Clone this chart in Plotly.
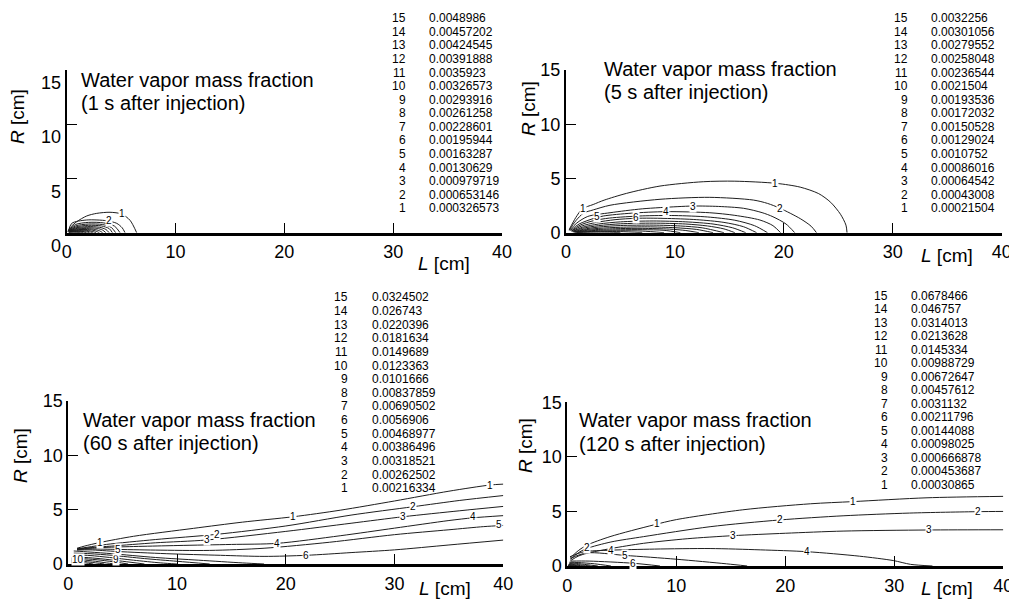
import plotly.graph_objects as go

# page is 1017x599; the browser places the figure 8px from the top-left corner
PAGE_W, PAGE_H = 1017, 599
BODY_MARGIN = 8
W, H = PAGE_W - BODY_MARGIN, PAGE_H - BODY_MARGIN

# ---------------- data ----------------
X_TICKS = [0, 10, 20, 30, 40]
Y_TICKS = [0, 5, 10, 15]
TITLE_LINE1 = "Water vapor mass fraction"
TIMES = ["(1 s after injection)", "(5 s after injection)",
         "(60 s after injection)", "(120 s after injection)"]
LEVEL_IDS = list(range(1, 16))

# contour level values, level 1 .. 15
P1_LEVELS = [0.000326573, 0.000653146, 0.000979719, 0.00130629, 0.00163287,
             0.00195944, 0.00228601, 0.00261258, 0.00293916, 0.00326573,
             0.0035923, 0.00391888, 0.00424545, 0.00457202, 0.0048986]
P2_LEVELS = [0.00021504, 0.00043008, 0.00064542, 0.00086016, 0.0010752,
             0.00129024, 0.00150528, 0.00172032, 0.00193536, 0.0021504,
             0.00236544, 0.00258048, 0.00279552, 0.00301056, 0.0032256]
P3_LEVELS = [0.00216334, 0.00262502, 0.00318521, 0.00386496, 0.00468977,
             0.0056906, 0.00690502, 0.00837859, 0.0101666, 0.0123363,
             0.0149689, 0.0181634, 0.0220396, 0.026743, 0.0324502]
P4_LEVELS = [0.00030865, 0.000453687, 0.000666878, 0.00098025, 0.00144088,
             0.00211796, 0.0031132, 0.00457612, 0.00672647, 0.00988729,
             0.0145334, 0.0213628, 0.0314013, 0.046757, 0.0678466]

# contour lines (L [cm], R [cm]), level 1 .. 15
P1_LINES_X = [
    [0.1, 0.3, 0.92, 1.84, 2.76, 3.98, 5.05, 5.82, 6.43],
    [0.15, 0.46, 1.84, 3.68, 4.6, 5.1, 5.36],
    [0.2, 0.8, 2.0, 3.4, 4.4, 4.9],
    [0.2, 0.8, 2.0, 3.3, 4.1, 4.5],
    [0.2, 0.8, 2.0, 3.2, 3.9, 4.2],
    [0.2, 0.8, 1.9, 3.0, 3.6, 3.9],
    [0.2, 0.8, 1.8, 2.8, 3.3, 3.6],
    [0.2, 0.7, 1.6, 2.5, 3.0, 3.3],
    [0.2, 0.7, 1.5, 2.3, 2.7, 3.0],
    [0.2, 0.6, 1.3, 2.0, 2.4, 2.7],
    [0.2, 0.6, 1.2, 1.8, 2.1, 2.4],
    [0.2, 0.5, 1.0, 1.5, 1.8, 2.1],
    [0.2, 0.5, 0.9, 1.3, 1.6, 1.8],
    [0.2, 0.4, 0.8, 1.1, 1.3, 1.5],
    [0.2, 0.4, 0.6, 0.9, 1.1, 1.2],
]
P1_LINES_Y = [
    [0.1, 0.45, 1.01, 1.54, 1.78, 1.88, 1.72, 1.14, 0.0],
    [0.1, 0.86, 1.17, 1.1, 0.86, 0.45, 0.0],
    [0.25, 0.75, 0.95, 0.9, 0.6, 0.0],
    [0.22, 0.62, 0.8, 0.75, 0.48, 0.0],
    [0.2, 0.52, 0.68, 0.62, 0.38, 0.0],
    [0.18, 0.44, 0.56, 0.5, 0.3, 0.0],
    [0.16, 0.37, 0.46, 0.4, 0.24, 0.0],
    [0.14, 0.3, 0.38, 0.32, 0.18, 0.0],
    [0.12, 0.25, 0.3, 0.25, 0.14, 0.0],
    [0.1, 0.2, 0.24, 0.2, 0.1, 0.0],
    [0.09, 0.16, 0.19, 0.15, 0.08, 0.0],
    [0.07, 0.12, 0.14, 0.11, 0.06, 0.0],
    [0.05, 0.09, 0.1, 0.08, 0.04, 0.0],
    [0.04, 0.06, 0.07, 0.05, 0.03, 0.0],
    [0.02, 0.035, 0.04, 0.03, 0.015, 0.0],
]
P1_LABEL_TEXT = ["1", "2"]
P1_LABEL_X = [5.05, 3.9]
P1_LABEL_Y = [1.74, 1.08]

P2_LINES_X = [
    [0.3, 0.9, 1.5, 2.5, 3.5, 5.57, 8.63, 12.6, 15.5, 19.3, 21.5, 23.2, 24.3, 25.2, 25.7, 25.8],
    [0.3, 0.9, 1.6, 2.5, 4.04, 8.63, 13.2, 17.2, 18.5, 19.65, 21.5, 22.5, 23.0],
    [0.3, 1.0, 2.0, 4.04, 7.0, 10.2, 11.7, 14.0, 16.3, 18.0, 19.0, 20.2, 21.0],
    [0.4, 1.2, 2.5, 3.43, 6.0, 9.18, 13.2, 15.5, 17.8, 19.0, 19.7],
    [0.5, 1.3, 2.5, 4.0, 7.0, 10.0, 13.0, 15.5, 17.3, 18.5],
    [0.5, 1.4, 2.8, 4.5, 6.49, 9.0, 12.0, 14.5, 16.3, 17.5],
    [0.6, 1.5, 3.0, 5.0, 8.0, 11.0, 13.5, 15.3, 16.5],
    [0.6, 1.5, 3.0, 5.0, 8.0, 11.0, 13.0, 14.5, 15.5],
    [0.7, 1.6, 3.0, 5.0, 8.0, 10.5, 12.5, 14.5],
    [0.7, 1.6, 3.0, 5.0, 7.5, 10.0, 12.0, 13.5],
    [0.8, 1.7, 3.0, 5.0, 7.0, 9.5, 11.0, 12.2],
    [0.8, 1.8, 3.0, 5.0, 7.0, 9.0, 10.5],
    [0.9, 2.0, 3.5, 5.0, 7.0, 9.0],
    [1.0, 2.0, 3.5, 5.0, 7.0],
    [1.0, 2.0, 3.0, 4.0, 5.0],
]
P2_LINES_Y = [
    [0.3, 1.4, 2.2, 2.6, 3.0, 3.63, 4.3, 4.7, 4.75, 4.55, 4.2, 3.6, 2.8, 1.7, 0.7, 0.0],
    [0.25, 1.1, 1.8, 2.1, 2.53, 3.08, 3.26, 3.01, 2.7, 2.25, 1.3, 0.6, 0.0],
    [0.2, 0.9, 1.5, 1.84, 2.2, 2.4, 2.46, 2.42, 2.25, 1.85, 1.47, 0.8, 0.0],
    [0.2, 0.8, 1.3, 1.54, 1.8, 1.94, 1.84, 1.6, 1.17, 0.65, 0.0],
    [0.18, 0.7, 1.1, 1.35, 1.55, 1.58, 1.45, 1.15, 0.65, 0.0],
    [0.15, 0.6, 0.95, 1.2, 1.33, 1.32, 1.2, 0.95, 0.55, 0.0],
    [0.13, 0.5, 0.8, 1.0, 1.08, 1.0, 0.8, 0.45, 0.0],
    [0.1, 0.4, 0.65, 0.82, 0.88, 0.8, 0.62, 0.35, 0.0],
    [0.08, 0.32, 0.52, 0.66, 0.7, 0.62, 0.45, 0.0],
    [0.06, 0.25, 0.4, 0.5, 0.54, 0.46, 0.3, 0.0],
    [0.05, 0.2, 0.3, 0.38, 0.4, 0.33, 0.2, 0.0],
    [0.04, 0.15, 0.22, 0.27, 0.28, 0.22, 0.0],
    [0.03, 0.1, 0.16, 0.18, 0.15, 0.0],
    [0.02, 0.07, 0.1, 0.1, 0.0],
    [0.01, 0.04, 0.05, 0.04, 0.0],
]
P2_LABEL_TEXT = ["1", "2", "3", "4", "6", "1", "5"]
P2_LABEL_X = [19.2, 19.65, 11.7, 9.18, 6.43, 1.6, 2.8]
P2_LABEL_Y = [4.5, 2.25, 2.46, 1.94, 1.36, 2.25, 1.47]

P3_LINES_X = [
    [0.8, 1.5, 2.92, 6.0, 11.5, 16.0, 20.7, 25.0, 30.0, 35.0, 38.8, 40.0],
    [0.8, 1.8, 3.5, 8.0, 13.65, 20.0, 26.0, 31.7, 36.0, 40.0],
    [0.8, 2.0, 4.0, 8.0, 12.73, 20.0, 26.0, 30.8, 36.0, 40.0],
    [0.8, 2.0, 4.0, 10.0, 15.0, 19.2, 25.0, 30.0, 35.0, 37.2, 40.0],
    [0.8, 2.0, 4.1, 8.0, 13.0, 18.0, 24.0, 30.0, 35.0, 38.2, 40.0],
    [0.8, 2.0, 4.5, 9.0, 14.0, 18.0, 21.9, 26.0, 30.0, 35.0, 40.0],
    [0.5, 2.0, 4.0, 8.0, 12.0, 16.0, 18.0],
    [0.5, 2.0, 4.0, 7.0, 10.0, 13.0],
    [0.5, 2.0, 3.8, 6.0, 8.5, 10.0],
    [0.3, 1.5, 3.0, 5.0, 7.0],
    [0.3, 1.5, 3.0, 4.5, 5.5],
    [0.3, 1.3, 2.5, 3.5, 4.3],
    [0.3, 1.1, 2.0, 3.3],
    [0.3, 0.9, 1.6, 2.3],
    [0.3, 0.7, 1.2, 1.5],
]
P3_LINES_Y = [
    [1.45, 1.65, 1.98, 2.55, 3.28, 3.85, 4.35, 4.95, 5.8, 6.7, 7.27, 7.35],
    [1.4, 1.55, 1.8, 2.25, 2.73, 3.5, 4.5, 5.27, 5.85, 6.3],
    [1.38, 1.5, 1.65, 1.95, 2.21, 3.0, 3.75, 4.35, 4.9, 5.3],
    [1.35, 1.45, 1.55, 1.7, 1.8, 1.9, 2.6, 3.3, 4.0, 4.25, 4.45],
    [1.32, 1.38, 1.35, 1.28, 1.25, 1.45, 2.0, 2.7, 3.15, 3.44, 3.55],
    [1.28, 1.3, 1.15, 0.95, 0.8, 0.7, 0.8, 1.05, 1.3, 1.75, 2.2],
    [1.2, 1.1, 0.95, 0.6, 0.35, 0.1, 0.0],
    [1.0, 0.95, 0.8, 0.5, 0.25, 0.0],
    [0.85, 0.78, 0.6, 0.35, 0.1, 0.0],
    [0.55, 0.6, 0.48, 0.25, 0.0],
    [0.45, 0.48, 0.35, 0.15, 0.0],
    [0.35, 0.37, 0.25, 0.1, 0.0],
    [0.27, 0.27, 0.17, 0.0],
    [0.18, 0.18, 0.1, 0.0],
    [0.1, 0.1, 0.05, 0.0],
]
P3_LABEL_TEXT = ["1", "1", "1", "2", "2", "3", "3", "4", "4", "5", "6",
                 "10", "9", "5"]
P3_LABEL_X = [38.8, 20.7, 2.9, 13.65, 31.7, 12.73, 30.8, 19.2, 37.2, 39.6, 21.9,
              0.9, 4.4, 4.6]
P3_LABEL_Y = [7.27, 4.35, 1.95, 2.73, 5.27, 2.21, 4.35, 1.9, 4.35, 3.6, 0.78,
              0.45, 0.45, 1.3]

P4_LINES_X = [
    [0.25, 1.0, 1.78, 3.92, 7.9, 10.0, 16.1, 22.3, 26.2, 33.0, 40.0],
    [0.3, 1.0, 1.78, 4.0, 7.0, 13.1, 19.5, 25.3, 31.4, 37.7, 40.0],
    [0.3, 1.0, 1.78, 4.0, 7.0, 11.0, 15.2, 20.0, 25.3, 33.1, 40.0],
    [0.25, 1.5, 3.98, 8.0, 13.1, 17.7, 22.0, 26.8, 29.9, 31.5, 33.5],
    [0.3, 1.78, 5.3, 10.0, 14.6, 16.5],
    [0.3, 2.0, 6.06, 8.5],
    [0.2, 1.0, 2.5, 4.0],
    [0.2, 0.8, 1.8, 2.8],
    [0.2, 0.7, 1.4, 2.1],
    [0.15, 0.5, 1.0, 1.5],
    [0.15, 0.4, 0.8, 1.1],
    [0.1, 0.3, 0.6, 0.8],
    [0.1, 0.25, 0.45, 0.6],
    [0.08, 0.2, 0.35],
    [0.05, 0.12, 0.2],
]
P4_LINES_Y = [
    [0.7, 1.4, 1.9, 2.69, 3.76, 4.25, 5.15, 5.7, 5.9, 6.25, 6.38],
    [0.6, 1.2, 1.6, 2.2, 2.69, 3.6, 4.22, 4.6, 4.85, 4.98, 5.0],
    [0.5, 0.9, 1.16, 1.6, 2.08, 2.5, 2.78, 3.0, 3.2, 3.3, 3.32],
    [0.85, 1.3, 1.45, 1.55, 1.6, 1.48, 1.31, 0.9, 0.5, 0.15, 0.0],
    [0.7, 1.2, 0.97, 0.62, 0.2, 0.0],
    [0.45, 0.45, 0.25, 0.0],
    [0.35, 0.32, 0.2, 0.0],
    [0.28, 0.25, 0.12, 0.0],
    [0.22, 0.18, 0.08, 0.0],
    [0.18, 0.14, 0.06, 0.0],
    [0.14, 0.1, 0.04, 0.0],
    [0.1, 0.08, 0.03, 0.0],
    [0.08, 0.06, 0.02, 0.0],
    [0.05, 0.04, 0.0],
    [0.03, 0.02, 0.0],
]
P4_LABEL_TEXT = ["1", "1", "2", "2", "2", "3", "3", "4", "4", "5", "6"]
P4_LABEL_X = [26.2, 8.2, 19.5, 37.7, 1.78, 15.2, 33.2, 3.98, 22.0, 5.3, 6.06]
P4_LABEL_Y = [5.9, 3.85, 4.22, 4.98, 1.7, 2.78, 3.3, 1.45, 1.33, 0.97, 0.25]

# ---------------- layout (page pixel geometry) ----------------
FONT = "Liberation Sans, Arial, Helvetica, sans-serif"

def px(x):
    return (x - BODY_MARGIN) / W

def py(y):
    return 1 - (y - BODY_MARGIN) / H

PANELS = [
    dict(levels=P1_LEVELS, lx=P1_LINES_X, ly=P1_LINES_Y,
         tt=P1_LABEL_TEXT, tx=P1_LABEL_X, ty=P1_LABEL_Y,
         xdom=(66.7, 502.0), ydom=(69.7, 232.7),
         title_x=79, title_y=(80, 103),
         idx_x=408, val_x=427, row_top=18.3, row_bot=208.3,
         rlab=(18, 117), llab=(444, 263), yshift=13),
    dict(levels=P2_LEVELS, lx=P2_LINES_X, ly=P2_LINES_Y,
         tt=P2_LABEL_TEXT, tx=P2_LABEL_X, ty=P2_LABEL_Y,
         xdom=(566.0, 1001.7), ydom=(70.0, 232.7),
         title_x=601.5, title_y=(69, 92.3),
         idx_x=910, val_x=929, row_top=18.3, row_bot=208.3,
         rlab=(528, 109), llab=(947, 255), yshift=0),
    dict(levels=P3_LEVELS, lx=P3_LINES_X, ly=P3_LINES_Y,
         tt=P3_LABEL_TEXT, tx=P3_LABEL_X, ty=P3_LABEL_Y,
         xdom=(68.3, 503.3), ydom=(401.0, 564.0),
         title_x=80.5, title_y=(420, 443.3),
         idx_x=350, val_x=369.5, row_top=297.3, row_bot=488.3,
         rlab=(20, 456), llab=(445, 588), yshift=0),
    dict(levels=P4_LEVELS, lx=P4_LINES_X, ly=P4_LINES_Y,
         tt=P4_LABEL_TEXT, tx=P4_LABEL_X, ty=P4_LABEL_Y,
         xdom=(567.3, 1003.3), ydom=(402.3, 566.0),
         title_x=577, title_y=(420, 444),
         idx_x=890.3, val_x=909, row_top=295.7, row_bot=485.0,
         rlab=(525, 446), llab=(947, 588), yshift=0),
]

fig = go.Figure()
annotations = []
layout_axes = {}

for i, p in enumerate(PANELS, start=1):
    xa = "x" if i == 1 else f"x{i}"
    ya = "y" if i == 1 else f"y{i}"
    xkey = "xaxis" if i == 1 else f"xaxis{i}"
    ykey = "yaxis" if i == 1 else f"yaxis{i}"

    for xs, ys in zip(p["lx"], p["ly"]):
        fig.add_trace(go.Scatter(
            x=xs, y=ys, mode="lines", xaxis=xa, yaxis=ya,
            line=dict(color="#1e1e1e", width=1, shape="spline", smoothing=0.8),
            showlegend=False, hoverinfo="skip"))

    layout_axes[xkey] = dict(
        domain=[px(p["xdom"][0]), px(p["xdom"][1])], range=[0, 40],
        anchor=ya, showline=True, linewidth=3, linecolor="black",
        ticks="inside", ticklen=10, tickwidth=1.2, tickcolor="black",
        tickvals=X_TICKS, ticktext=[str(v) for v in X_TICKS],
        tickfont=dict(family=FONT, size=18, color="black"),
        ticklabelstandoff=1, automargin=False,
        showgrid=False, zeroline=False, fixedrange=True)
    layout_axes[ykey] = dict(
        domain=[py(p["ydom"][1]), py(p["ydom"][0])], range=[0, 15],
        anchor=xa, showline=True, linewidth=2, linecolor="black",
        ticks="inside", ticklen=10, tickwidth=1.2, tickcolor="black",
        tickvals=Y_TICKS, ticktext=[str(v) for v in Y_TICKS],
        tickfont=dict(family=FONT, size=18, color="black"),
        ticklabelshift=p["yshift"], automargin=False,
        showgrid=False, zeroline=False, fixedrange=True)

    # inline contour labels
    for t, x, y in zip(p["tt"], p["tx"], p["ty"]):
        annotations.append(dict(
            x=x, y=y, xref=xa, yref=ya, text=t, showarrow=False,
            font=dict(family=FONT, size=10, color="black"),
            bgcolor="white", borderpad=0))

    # panel title (two lines)
    for txt, yy in zip([TITLE_LINE1, TIMES[i - 1]], p["title_y"]):
        annotations.append(dict(
            x=px(p["title_x"]), y=py(yy), xref="paper", yref="paper",
            xanchor="left", yanchor="middle", text=txt, showarrow=False,
            font=dict(family=FONT, size=20, color="black")))

    # level table
    n = len(LEVEL_IDS)
    step = (p["row_bot"] - p["row_top"]) / (n - 1)
    for k, (lid, val) in enumerate(zip(LEVEL_IDS, p["levels"])):
        yy = p["row_bot"] - k * step
        annotations.append(dict(
            x=px(p["idx_x"]), y=py(yy), xref="paper", yref="paper",
            xanchor="right", yanchor="middle", text=str(lid), showarrow=False,
            font=dict(family=FONT, size=12, color="black")))
        annotations.append(dict(
            x=px(p["val_x"]), y=py(yy), xref="paper", yref="paper",
            xanchor="left", yanchor="middle", text=str(val), showarrow=False,
            font=dict(family=FONT, size=12, color="black")))

    # axis titles
    annotations.append(dict(
        x=px(p["rlab"][0]), y=py(p["rlab"][1]), xref="paper", yref="paper",
        xanchor="center", yanchor="middle", textangle=-90,
        text="<i>R</i> [cm]", showarrow=False,
        font=dict(family=FONT, size=19, color="black")))
    annotations.append(dict(
        x=px(p["llab"][0]), y=py(p["llab"][1]), xref="paper", yref="paper",
        xanchor="center", yanchor="middle",
        text="<i>L</i> [cm]", showarrow=False,
        font=dict(family=FONT, size=19, color="black")))

fig.update_layout(
    width=W, height=H,
    margin=dict(l=0, r=0, t=0, b=0, pad=0, autoexpand=False),
    paper_bgcolor="white", plot_bgcolor="white",
    showlegend=False, annotations=annotations, **layout_axes)

fig.write_html("out.html")
